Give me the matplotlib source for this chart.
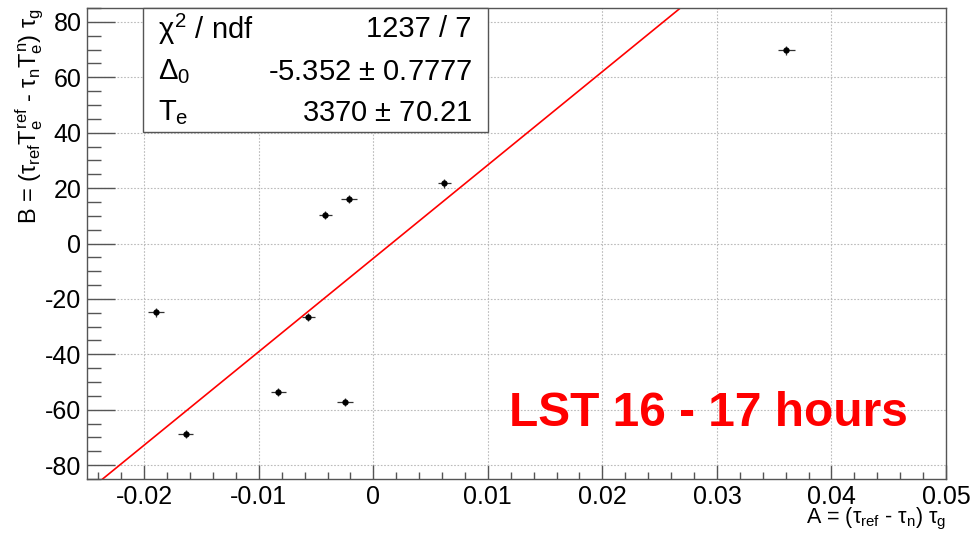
import numpy as np
import matplotlib
matplotlib.use('Agg')
import matplotlib.pyplot as plt
from matplotlib.ticker import MultipleLocator

plt.rcParams['font.family'] = ['Liberation Sans', 'DejaVu Sans']
plt.rcParams['mathtext.fontset'] = 'custom'
plt.rcParams['mathtext.rm'] = 'Liberation Sans'
plt.rcParams['mathtext.it'] = 'Liberation Sans'
plt.rcParams['mathtext.bf'] = 'Liberation Sans:bold'

# data points
a_vals = [-0.01897, -0.01636, -0.00828, -0.00567, -0.00418, -0.00244, -0.00212, 0.00619, 0.03607]
b_vals = [-24.9, -68.8, -53.7, -26.5, 10.3, -57.1, 16.0, 21.7, 69.7]
a_errs = [0.00073, 0.00065, 0.00064, 0.00057, 0.0006, 0.0007, 0.0007, 0.00055, 0.00075]
b_errs = [1.5, 1.5, 1.5, 1.5, 1.5, 1.5, 1.5, 1.5, 1.5]

# fit result from the stats box
delta0 = -5.352
delta0_err = 0.7777
te = 3370
te_err = 70.21
chi2 = 1237
ndf = 7

fig = plt.figure(figsize=(9.76, 5.33), dpi=100)
ax = fig.add_axes([0.0891, 0.1013, 0.9693 - 0.0891, 0.985 - 0.1013])

ax.errorbar(a_vals, b_vals, xerr=a_errs, yerr=b_errs, fmt='o', color='black',
            markersize=3.5, elinewidth=0.9, ecolor='#333333', capsize=0, zorder=3)

# fitted line B = Te * A + delta0
xfit = np.linspace(-0.025, 0.05, 200)
ax.plot(xfit, te * xfit + delta0, color='red', lw=1.2, zorder=2)

ax.set_xlim(-0.025, 0.05)
ax.set_ylim(-85, 85)
ax.xaxis.set_minor_locator(MultipleLocator(0.002))
ax.yaxis.set_minor_locator(MultipleLocator(5))
ax.set_xticks([-0.02, -0.01, 0, 0.01, 0.02, 0.03, 0.04, 0.05])
ax.set_xticklabels(['-0.02', '-0.01', '0', '0.01', '0.02', '0.03', '0.04', '0.05'])
ax.set_yticks([-80, -60, -40, -20, 0, 20, 40, 60, 80])
ax.set_yticklabels(['-80', '-60', '-40', '-20', '0', '20', '40', '60', '80'])

ax.tick_params(axis='x', which='major', direction='in', length=10, width=1, labelsize=18, pad=4, color='#555555')
ax.tick_params(axis='x', which='minor', direction='in', length=5, width=1, color='#555555')
ax.tick_params(axis='y', which='major', direction='in', length=20, width=1, labelsize=18, pad=4, color='#555555')
ax.tick_params(axis='y', which='minor', direction='in', length=10, width=1, color='#555555')
for s in ax.spines.values():
    s.set_color('#555555')
    s.set_linewidth(1)

ax.grid(True, which='major', linestyle=(0, (1.5, 1.5)), color='#bbbbbb', lw=0.8)
ax.set_axisbelow(True)

# x title sits right-aligned just under the tick labels
fig.text(946 / 976, 1 - 523 / 533, 'A = (' + r'$\tau_{ref}$' + ' - ' + r'$\tau_{n}$' + ') ' + r'$\tau_{g}$',
         fontsize=15.5, ha='right', va='baseline')
ax.set_ylabel('B = (' + r'$\tau_{ref}T_{e}^{ref}$' + ' - ' + r'$\tau_{n}T_{e}^{n}$' + ') ' + r'$\tau_{g}$',
              fontsize=17, loc='top', labelpad=0)

# stats box
box = plt.Rectangle((143 / 976, 1 - 132 / 533), (488 - 143) / 976, (132 - 8) / 533,
                    transform=fig.transFigure, facecolor='white', edgecolor='#555555', lw=1, zorder=5)
fig.patches.append(box)
rows = [(r'$\chi^{2}$ / ndf', '%d / %d' % (chi2, ndf)),
        (r'$\Delta_{0}$', '%.3f $\\pm$ %.4f' % (delta0, delta0_err)),
        (r'$T_{e}$', '%d $\\pm$ %.2f' % (te, te_err))]
row_y = [29, 72, 113]
for (lab, val), yy in zip(rows, row_y):
    fig.text(158 / 976, 1 - yy / 533, lab, fontsize=21, ha='left', va='center', zorder=6)
    fig.text(472 / 976, 1 - yy / 533, val, fontsize=21, ha='right', va='center', zorder=6)

fig.text(708 / 976, 1 - 414 / 533, 'LST 16 - 17 hours', color='red', fontsize=34.5,
         fontweight='bold', ha='center', va='center')

fig.savefig('out.png', dpi=100)
